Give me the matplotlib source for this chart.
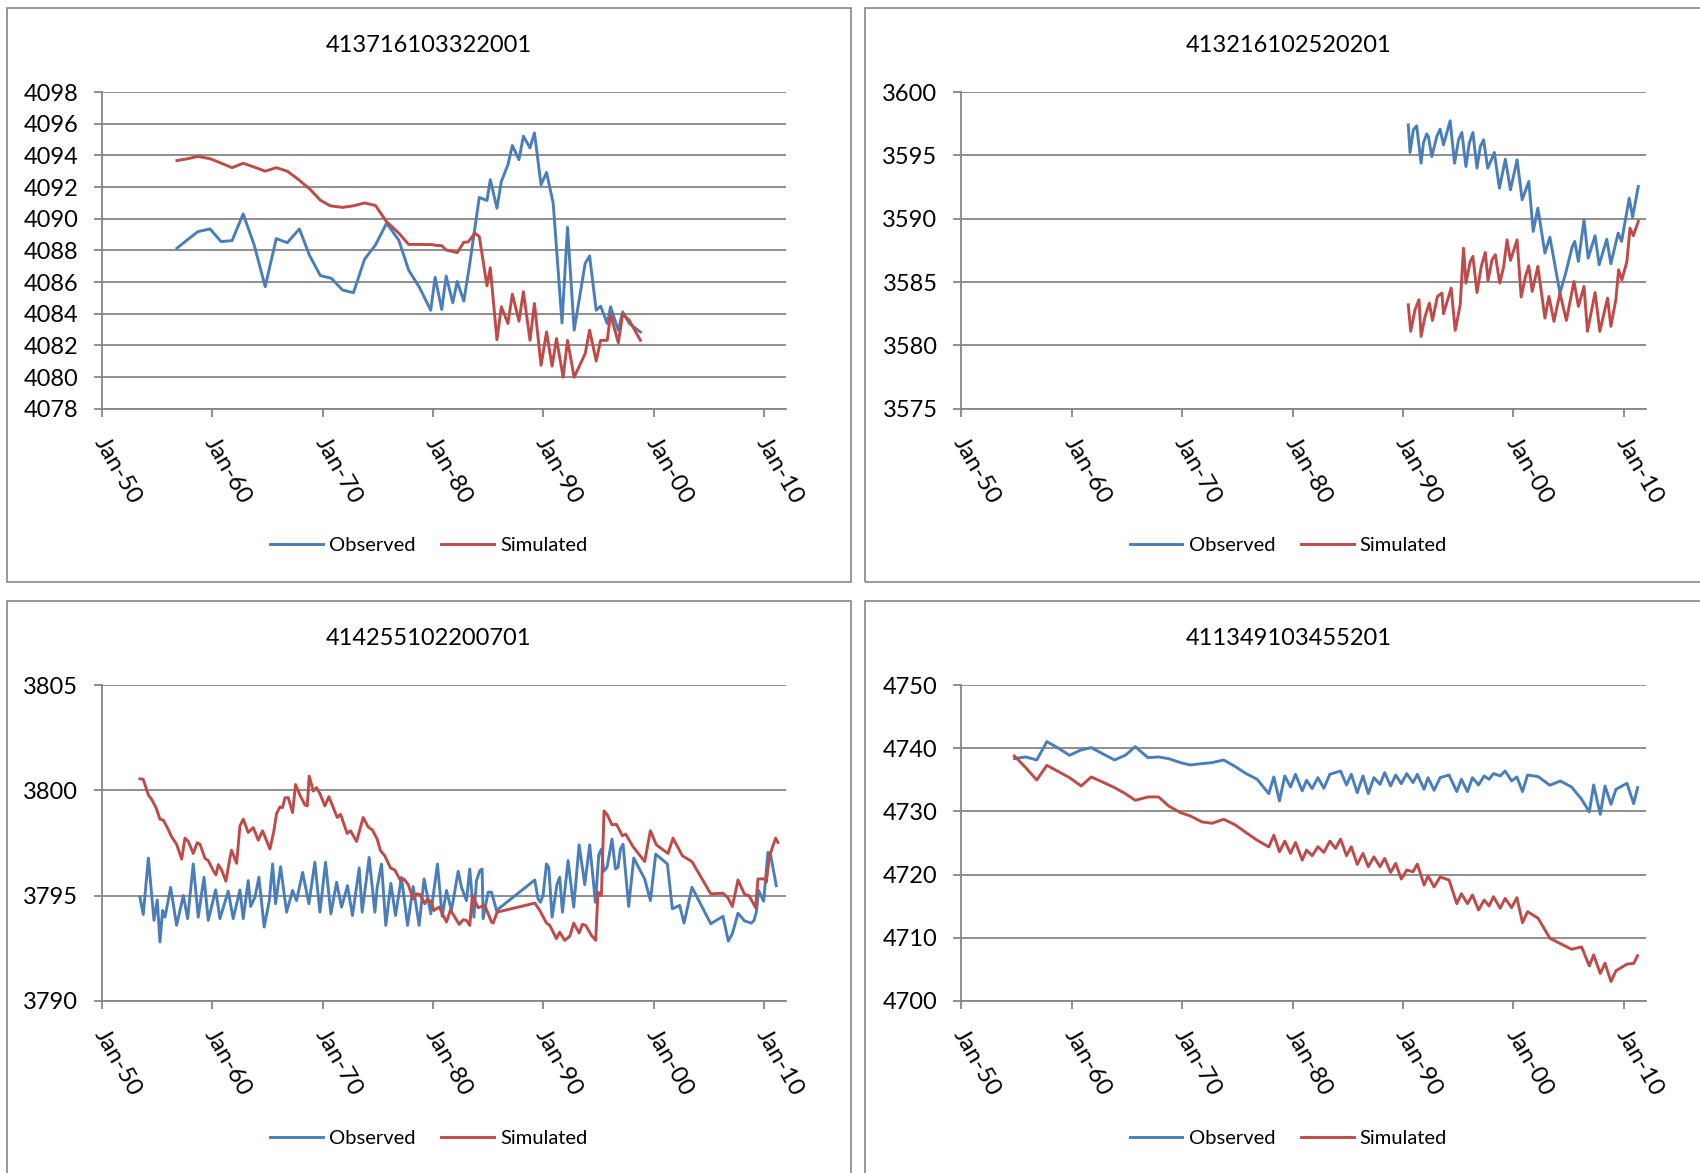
import matplotlib
matplotlib.use("Agg")
import matplotlib.pyplot as plt
from matplotlib.patches import Rectangle
from matplotlib.transforms import ScaledTranslation

plt.rcParams['font.family'] = ['Lato', 'DejaVu Sans']

# chart titles
titles = ['413716103322001', '413216102520201', '414255102200701', '411349103455201']

# x axis (decimal years) and labels
x_ticks = [1950, 1960, 1970, 1980, 1990, 2000, 2010]
x_labels = ['Jan-50', 'Jan-60', 'Jan-70', 'Jan-80', 'Jan-90', 'Jan-00', 'Jan-10']

# y axis of each panel
y_ticks1 = [4078, 4080, 4082, 4084, 4086, 4088, 4090, 4092, 4094, 4096, 4098]
y_ticks2 = [3575, 3580, 3585, 3590, 3595, 3600]
y_ticks3 = [3790, 3795, 3800, 3805]
y_ticks4 = [4700, 4710, 4720, 4730, 4740, 4750]

# --- 413716103322001
obs1_t = [1956.8, 1957.8, 1958.7, 1959.8, 1960.8, 1961.8, 1962.8, 1963.8, 1964.8, 1965.8,
          1966.8, 1967.9, 1968.8, 1969.8, 1970.8, 1971.8, 1972.8, 1973.8, 1974.8, 1975.8,
          1976.9, 1977.8, 1978.8, 1979.8, 1980.2, 1980.8, 1981.2, 1981.8, 1982.2, 1982.8,
          1983.3, 1984.2, 1984.9, 1985.2, 1985.8, 1986.2, 1986.8, 1987.2, 1987.8, 1988.2,
          1988.8, 1989.2, 1989.8, 1990.3, 1990.9, 1991.7, 1992.2, 1992.8, 1993.8, 1994.2,
          1994.8, 1995.2, 1995.8, 1996.1, 1996.8, 1997.2, 1997.8, 1998.8]
obs1 = [4088.14, 4088.7, 4089.19, 4089.36, 4088.56, 4088.62, 4090.31, 4088.35, 4085.71, 4088.75,
        4088.49, 4089.36, 4087.71, 4086.41, 4086.24, 4085.5, 4085.33, 4087.44, 4088.35, 4089.72,
        4088.66, 4086.76, 4085.64, 4084.22, 4086.3, 4084.27, 4086.38, 4084.69, 4086.04, 4084.8,
        4086.97, 4091.35, 4091.16, 4092.47, 4090.67, 4092.36, 4093.42, 4094.63, 4093.74, 4095.22,
        4094.48, 4095.43, 4092.15, 4092.93, 4090.99, 4083.42, 4089.47, 4082.96, 4087.18, 4087.65,
        4084.22, 4084.48, 4083.38, 4084.44, 4082.96, 4084.12, 4083.38, 4082.85]
sim1_t = [1956.8, 1957.8, 1958.7, 1959.8, 1960.9, 1961.8, 1962.8, 1963.8, 1964.8, 1965.8,
          1966.8, 1967.8, 1968.9, 1969.8, 1970.7, 1971.8, 1972.8, 1973.8, 1974.8, 1975.8,
          1976.9, 1977.8, 1978.8, 1979.9, 1980.2, 1980.8, 1981.2, 1982.2, 1982.8, 1983.2,
          1983.8, 1984.2, 1984.9, 1985.2, 1985.8, 1986.2, 1986.8, 1987.2, 1987.8, 1988.2,
          1988.8, 1989.2, 1989.8, 1990.3, 1990.8, 1991.2, 1991.8, 1992.2, 1992.8, 1993.8,
          1994.2, 1994.8, 1995.2, 1995.8, 1996.1, 1996.8, 1997.2, 1997.8, 1998.8]
sim1 = [4093.68, 4093.8, 4093.94, 4093.8, 4093.49, 4093.23, 4093.51, 4093.27, 4093.01, 4093.23,
        4093.01, 4092.49, 4091.84, 4091.17, 4090.82, 4090.72, 4090.82, 4091.0, 4090.84, 4089.81,
        4089.1, 4088.38, 4088.38, 4088.37, 4088.33, 4088.3, 4088.03, 4087.86, 4088.52, 4088.54,
        4089.09, 4088.88, 4085.77, 4086.91, 4082.36, 4084.44, 4083.38, 4085.24, 4083.53, 4085.39,
        4082.32, 4084.65, 4080.74, 4082.85, 4080.69, 4082.43, 4079.99, 4082.32, 4079.99, 4081.48,
        4082.96, 4081.01, 4082.32, 4082.32, 4083.97, 4082.17, 4083.97, 4083.59, 4082.32]

# --- 413216102520201
obs2_t = [1990.48, 1990.64, 1990.94, 1991.24, 1991.64, 1991.85, 1992.15, 1992.3, 1992.61, 1993.06,
          1993.36, 1993.67, 1994.27, 1994.67, 1995.03, 1995.33, 1995.7, 1996.0, 1996.33, 1996.7,
          1997.0, 1997.3, 1997.67, 1998.0, 1998.27, 1998.73, 1999.27, 1999.73, 2000.33, 2000.79,
          2001.39, 2001.79, 2002.21, 2002.85, 2003.3, 2004.21, 2004.73, 2005.33, 2005.55, 2005.88,
          2006.39, 2006.76, 2007.39, 2007.76, 2008.45, 2008.82, 2009.48, 2009.79, 2010.48, 2010.79,
          2011.3]
obs2 = [3597.42, 3595.24, 3597.03, 3597.34, 3594.39, 3595.97, 3596.71, 3596.5, 3594.92, 3596.5,
        3597.08, 3595.84, 3597.74, 3594.39, 3596.24, 3596.82, 3594.13, 3595.97, 3596.82, 3594.0,
        3595.71, 3596.24, 3594.0, 3594.66, 3595.24, 3592.42, 3594.71, 3592.29, 3594.66, 3591.5,
        3592.95, 3589.0, 3590.84, 3587.29, 3588.55, 3584.13, 3585.71, 3587.82, 3588.21, 3586.63,
        3589.92, 3586.89, 3588.66, 3586.37, 3588.39, 3586.45, 3588.87, 3588.21, 3591.63, 3590.13,
        3592.55]
sim2_t = [1990.48, 1990.7, 1991.09, 1991.45, 1991.64, 1992.0, 1992.39, 1992.67, 1993.12, 1993.52,
          1993.67, 1994.36, 1994.73, 1995.18, 1995.48, 1995.7, 1996.09, 1996.33, 1996.7, 1997.09,
          1997.45, 1997.7, 1998.06, 1998.36, 1998.76, 1999.12, 1999.42, 1999.73, 2000.33, 2000.7,
          2001.09, 2001.39, 2001.7, 2002.21, 2002.85, 2003.21, 2003.67, 2004.21, 2004.79, 2005.48,
          2005.88, 2006.39, 2006.7, 2007.39, 2007.82, 2008.52, 2008.82, 2009.27, 2009.52, 2009.82,
          2010.27, 2010.55, 2010.85, 2011.3]
sim2 = [3583.21, 3581.11, 3582.82, 3583.61, 3580.71, 3582.29, 3583.34, 3581.97, 3583.87, 3584.13,
        3582.5, 3584.53, 3581.18, 3583.21, 3587.68, 3584.92, 3586.63, 3587.03, 3584.18, 3586.24,
        3587.34, 3585.13, 3586.76, 3587.16, 3584.92, 3586.24, 3588.34, 3586.71, 3588.34, 3583.82,
        3585.45, 3586.29, 3584.26, 3586.24, 3582.16, 3583.87, 3581.9, 3584.13, 3581.97, 3585.05,
        3583.08, 3584.66, 3581.11, 3584.18, 3581.11, 3583.74, 3581.5, 3583.61, 3585.97, 3585.18,
        3586.63, 3589.26, 3588.66, 3589.79]

# --- 414255102200701
obs3_t = [1953.45, 1953.75, 1954.21, 1954.72, 1955.02, 1955.26, 1955.5, 1955.72, 1956.23, 1956.77,
          1957.38, 1957.77, 1958.28, 1958.73, 1959.25, 1959.64, 1960.31, 1960.7, 1961.45, 1961.9,
          1962.51, 1962.81, 1963.26, 1963.48, 1963.87, 1964.23, 1964.71, 1965.17, 1965.47, 1965.74,
          1966.19, 1966.74, 1967.28, 1967.64, 1968.19, 1968.76, 1969.3, 1969.76, 1970.27, 1970.75,
          1971.27, 1971.72, 1972.26, 1972.71, 1973.32, 1973.59, 1974.22, 1974.74, 1974.95, 1975.34,
          1975.73, 1976.19, 1976.61, 1977.15, 1977.7, 1978.21, 1978.75, 1979.2, 1979.81, 1980.41,
          1980.84, 1981.23, 1981.68, 1982.29, 1982.59, 1983.04, 1983.34, 1983.71, 1983.95, 1984.25,
          1984.46, 1984.55, 1985.0, 1985.31, 1985.76, 1989.23, 1989.53, 1989.74, 1989.98, 1990.29,
          1990.5, 1990.8, 1991.25, 1991.49, 1991.74, 1992.25, 1992.76, 1993.25, 1993.76, 1994.21,
          1994.73, 1995.03, 1995.27, 1995.48, 1995.78, 1996.23, 1996.54, 1996.78, 1996.99, 1997.23,
          1997.74, 1998.2, 1999.19, 1999.71, 2000.19, 2001.25, 2001.7, 2002.36, 2002.76, 2003.48,
          2005.18, 2006.29, 2006.77, 2007.14, 2007.65, 2008.25, 2008.86, 2009.1, 2009.31, 2009.52,
          2009.97, 2010.36, 2010.58, 2011.12]
obs3 = [3794.92, 3794.10, 3796.78, 3793.82, 3794.79, 3792.79, 3794.29, 3793.97, 3795.39, 3793.58,
        3795.0, 3793.9, 3796.5, 3793.97, 3795.87, 3793.82, 3795.27, 3793.9, 3795.21, 3793.9,
        3795.27, 3793.9, 3795.71, 3794.48, 3794.92, 3795.87, 3793.5, 3794.76, 3796.5, 3794.61,
        3796.37, 3794.21, 3795.24, 3794.76, 3796.1, 3794.61, 3796.58, 3794.21, 3796.58, 3794.13,
        3795.63, 3794.45, 3795.47, 3794.05, 3796.31, 3794.21, 3796.81, 3794.21, 3795.39, 3796.5,
        3793.58, 3795.58, 3794.05, 3795.87, 3793.58, 3795.43, 3793.58, 3795.79, 3794.13, 3796.5,
        3794.01, 3795.24, 3794.29, 3796.15, 3795.39, 3794.76, 3796.26, 3793.97, 3795.71, 3796.18,
        3796.26, 3793.9, 3795.16, 3795.16, 3794.29, 3795.74, 3794.84, 3794.68, 3795.0, 3796.5,
        3796.34, 3793.97, 3795.55, 3795.87, 3794.21, 3796.66, 3794.45, 3797.41, 3795.52, 3797.41,
        3794.68, 3796.94, 3797.21, 3796.15, 3796.34, 3797.68, 3796.26, 3796.34, 3797.21, 3797.44,
        3794.48, 3796.78, 3795.79, 3794.76, 3796.97, 3796.5, 3794.37, 3794.53, 3793.69, 3795.39,
        3793.66, 3794.01, 3792.84, 3793.19, 3794.16, 3793.79, 3793.69, 3793.82, 3794.21, 3795.24,
        3794.73, 3797.05, 3797.0, 3795.47]
sim3_t = [1953.45, 1953.75, 1954.21, 1954.51, 1954.9, 1955.26, 1955.57, 1955.93, 1956.32, 1956.77,
          1957.23, 1957.53, 1957.83, 1958.28, 1958.64, 1958.89, 1959.34, 1959.64, 1960.1, 1960.34,
          1960.55, 1960.85, 1961.24, 1961.6, 1961.75, 1962.21, 1962.51, 1962.81, 1963.26, 1963.72,
          1964.17, 1964.56, 1965.23, 1965.59, 1965.83, 1966.13, 1966.37, 1966.59, 1966.89, 1967.28,
          1967.55, 1967.94, 1968.4, 1968.61, 1968.79, 1969.15, 1969.45, 1969.76, 1970.21, 1970.57,
          1971.33, 1971.63, 1972.23, 1972.53, 1973.08, 1973.68, 1974.13, 1974.52, 1974.95, 1975.25,
          1975.64, 1976.16, 1976.55, 1977.06, 1977.37, 1977.76, 1978.21, 1978.51, 1978.81, 1979.27,
          1979.51, 1979.87, 1980.08, 1980.57, 1981.23, 1981.59, 1982.38, 1982.74, 1983.04, 1983.34,
          1983.58, 1984.1, 1984.4, 1984.7, 1985.31, 1985.46, 1985.82, 1989.23, 1989.69, 1990.29,
          1990.59, 1991.19, 1991.49, 1991.94, 1992.4, 1992.76, 1993.25, 1993.55, 1993.85, 1994.36,
          1994.75, 1994.96, 1995.27, 1995.51, 1995.81, 1996.23, 1996.63, 1997.17, 1997.47, 1998.14,
          1999.19, 1999.71, 2000.25, 2001.31, 2001.76, 2002.61, 2003.48, 2005.18, 2006.29, 2006.74,
          2007.14, 2007.65, 2008.25, 2008.64, 2009.25, 2009.46, 2010.06, 2010.21, 2010.51, 2011.06,
          2011.27]
sim3 = [3800.55, 3800.52, 3799.78, 3799.57, 3799.18, 3798.63, 3798.58, 3798.23, 3797.79, 3797.44,
        3796.73, 3797.73, 3797.57, 3797.0, 3797.51, 3797.44, 3796.77, 3796.66, 3796.18, 3795.98,
        3796.47, 3796.21, 3795.68, 3796.78, 3797.16, 3796.53, 3798.31, 3798.63, 3798.0, 3798.23,
        3797.63, 3798.08, 3797.21, 3798.08, 3798.9, 3799.21, 3799.18, 3799.65, 3799.65, 3798.94,
        3800.28, 3799.78, 3799.31, 3799.26, 3800.68, 3799.97, 3800.13, 3799.84, 3799.26, 3799.7,
        3798.71, 3798.86, 3797.95, 3798.08, 3797.57, 3798.71, 3798.26, 3798.11, 3797.68, 3797.13,
        3796.89, 3796.31, 3796.21, 3795.71, 3795.79, 3795.52, 3794.84, 3795.08, 3795.05, 3794.61,
        3794.84, 3794.68, 3794.29, 3794.45, 3793.74, 3794.32, 3793.63, 3793.85, 3793.82, 3793.58,
        3795.0, 3794.42, 3794.48, 3794.53, 3793.74, 3793.69, 3794.21, 3794.64, 3794.29, 3793.69,
        3793.58, 3792.95, 3793.26, 3792.87, 3793.06, 3793.69, 3793.22, 3793.63, 3793.58, 3793.11,
        3792.87, 3795.16, 3795.0, 3799.02, 3798.83, 3798.36, 3798.39, 3797.84, 3797.92, 3797.32,
        3796.62, 3798.08, 3797.41, 3797.0, 3797.73, 3796.89, 3796.61, 3795.08, 3795.11, 3794.89,
        3794.48, 3795.74, 3795.05, 3795.0, 3794.42, 3795.79, 3795.79, 3795.63, 3796.89, 3797.73,
        3797.52]

# --- 411349103455201
obs4_t = [1954.83, 1955.85, 1956.85, 1957.76, 1958.82, 1959.81, 1960.87, 1961.78, 1962.8, 1963.89,
          1964.86, 1965.77, 1966.91, 1967.88, 1968.79, 1969.85, 1970.75, 1971.81, 1972.72, 1973.77,
          1974.83, 1975.8, 1976.8, 1977.85, 1978.31, 1978.82, 1979.3, 1979.82, 1980.27, 1980.88,
          1981.27, 1981.78, 1982.3, 1982.84, 1983.38, 1984.35, 1984.89, 1985.32, 1985.86, 1986.38,
          1986.86, 1987.37, 1987.92, 1988.34, 1988.88, 1989.34, 1989.85, 1990.34, 1990.91, 1991.3,
          1991.91, 1992.27, 1992.82, 1993.36, 1994.17, 1994.87, 1995.29, 1995.84, 1996.29, 1996.84,
          1997.35, 1997.8, 1998.19, 1998.8, 1999.25, 1999.83, 2000.31, 2000.82, 2001.28, 2002.24,
          2003.3, 2004.24, 2005.26, 2006.17, 2006.87, 2007.26, 2007.86, 2008.29, 2008.83, 2009.28,
          2010.28, 2010.88, 2011.24]
obs4 = [4738.36, 4738.63, 4738.15, 4741.06, 4740.0, 4738.89, 4739.74, 4740.11, 4739.15, 4738.15,
        4738.89, 4740.26, 4738.52, 4738.63, 4738.36, 4737.73, 4737.36, 4737.57, 4737.73, 4738.15,
        4737.09, 4735.99, 4735.09, 4732.82, 4735.46, 4731.65, 4735.62, 4733.87, 4735.88, 4733.24,
        4734.93, 4733.61, 4735.35, 4733.66, 4735.88, 4736.41, 4734.19, 4735.88, 4732.97, 4735.62,
        4732.82, 4735.35, 4734.29, 4736.14, 4734.03, 4735.77, 4734.4, 4735.99, 4734.56, 4735.88,
        4733.5, 4735.35, 4733.34, 4735.35, 4735.77, 4733.13, 4735.09, 4733.13, 4735.35, 4734.19,
        4735.62, 4735.09, 4735.99, 4735.62, 4736.41, 4734.82, 4735.46, 4733.13, 4735.77, 4735.51,
        4734.14, 4734.82, 4733.87, 4731.92, 4729.91, 4734.19, 4729.54, 4734.03, 4731.13, 4733.5,
        4734.45, 4731.23, 4733.77]
sim4_t = [1954.83, 1955.85, 1956.85, 1957.76, 1958.82, 1959.81, 1960.87, 1961.78, 1962.8, 1963.89,
          1964.86, 1965.77, 1966.91, 1967.88, 1968.79, 1969.85, 1970.75, 1971.81, 1972.72, 1973.77,
          1974.83, 1975.8, 1976.8, 1977.85, 1978.31, 1978.82, 1979.3, 1979.82, 1980.27, 1980.88,
          1981.27, 1981.78, 1982.3, 1982.84, 1983.38, 1983.89, 1984.35, 1984.89, 1985.32, 1985.86,
          1986.38, 1986.86, 1987.37, 1987.92, 1988.34, 1988.88, 1989.34, 1989.85, 1990.34, 1990.91,
          1991.3, 1991.91, 1992.27, 1992.82, 1993.36, 1994.17, 1994.87, 1995.29, 1995.84, 1996.29,
          1996.84, 1997.35, 1997.8, 1998.19, 1998.8, 1999.25, 1999.83, 2000.31, 2000.82, 2001.28,
          2002.24, 2003.3, 2004.24, 2005.26, 2006.17, 2006.87, 2007.26, 2007.86, 2008.29, 2008.83,
          2009.28, 2010.28, 2010.88, 2011.24]
sim4 = [4738.78, 4736.93, 4734.98, 4737.3, 4736.3, 4735.35, 4734.03, 4735.46, 4734.66, 4733.77,
        4732.82, 4731.76, 4732.29, 4732.29, 4730.86, 4729.81, 4729.28, 4728.33, 4728.12, 4728.75,
        4727.85, 4726.64, 4725.43, 4724.37, 4726.22, 4723.6, 4725.29, 4723.34, 4725.08, 4722.28,
        4723.87, 4722.97, 4724.4, 4723.5, 4725.29, 4724.13, 4725.61, 4722.97, 4724.4, 4721.6,
        4723.34, 4721.23, 4722.81, 4721.23, 4722.55, 4720.33, 4721.76, 4719.28, 4720.7, 4720.44,
        4721.66, 4718.34, 4719.76, 4718.02, 4719.6, 4719.13, 4715.38, 4716.96, 4715.38, 4716.75,
        4714.37, 4715.96, 4715.01, 4716.49, 4714.64, 4716.22, 4714.74, 4716.33, 4712.37, 4714.11,
        4713.05, 4709.89, 4709.05, 4708.15, 4708.52, 4705.51, 4707.26, 4704.31, 4705.94, 4703.04,
        4704.74, 4705.8, 4705.91, 4707.13]

BLUE = '#4a7ebb'
RED = '#be4b48'
GRID = '#868686'

W, H = 1700, 1173
fig = plt.figure(figsize=(17, 11.73), dpi=100)


def fx(px):
    return px / W


def fy(py):
    return 1 - py / H


panels = [
    (titles[0], obs1_t, obs1, sim1_t, sim1, y_ticks1, (6.5, 7.6, 851, 582), (101.9, 92.2, 786, 408.7)),
    (titles[1], obs2_t, obs2, sim2_t, sim2, y_ticks2, (865, 7.6, 1712, 582), (961.1, 92.2, 1646, 408.7)),
    (titles[2], obs3_t, obs3, sim3_t, sim3, y_ticks3, (6.5, 600.5, 851, 1175), (101.9, 685.2, 786, 1000.7)),
    (titles[3], obs4_t, obs4, sim4_t, sim4, y_ticks4, (865, 600.5, 1712, 1175), (961.1, 685.2, 1646, 1000.7)),
]

for title, ot, ov, st, sv, yt, frame, box in panels:
    l, t, r, b = frame
    fig.patches.append(Rectangle((fx(l), fy(b)), fx(r) - fx(l), fy(t) - fy(b),
                                 transform=fig.transFigure, fill=False,
                                 edgecolor=GRID, linewidth=1.2))
    al, at, ar, ab = box
    ax = fig.add_axes([fx(al), fy(ab), fx(ar) - fx(al), fy(at) - fy(ab)])
    ax.plot(ot, ov, color=BLUE, lw=2.1, label='Observed')
    ax.plot(st, sv, color=RED, lw=2.1, label='Simulated')
    ax.set_xlim(1950, 2012)
    ax.set_ylim(yt[0], yt[-1])
    ax.set_yticks(yt)
    ax.set_yticklabels([str(v) for v in yt], fontsize=17)
    ax.set_xticks(x_ticks)
    ax.set_xticklabels(x_labels, fontsize=17.5, rotation=-60, ha='left', va='top',
                       rotation_mode='anchor')
    ax.grid(axis='y', color=GRID, lw=1.3)
    ax.set_axisbelow(True)
    for s in ['top', 'right']:
        ax.spines[s].set_visible(False)
    for s in ['left', 'bottom']:
        ax.spines[s].set_color(GRID)
        ax.spines[s].set_linewidth(1.3)
    ax.tick_params(axis='both', direction='out', length=6, width=1.3, color=GRID)
    ax.tick_params(axis='y', pad=11)
    ax.tick_params(axis='x', pad=12)
    for lab in ax.get_xticklabels():
        lab.set_transform(lab.get_transform() + ScaledTranslation(0.065, 0, fig.dpi_scale_trans))
    cx = fx((l + min(r, 1712)) / 2)
    fig.text(cx, fy(t + 38), title, ha='center', va='center', fontsize=17)
    fig.legend(handles=ax.get_lines(), loc='center', bbox_to_anchor=(cx, fy(t + 538)),
               ncol=2, frameon=False, fontsize=14.5, handlelength=2.6,
               handletextpad=0.3, columnspacing=1.3)

fig.savefig('out.png', dpi=100)
